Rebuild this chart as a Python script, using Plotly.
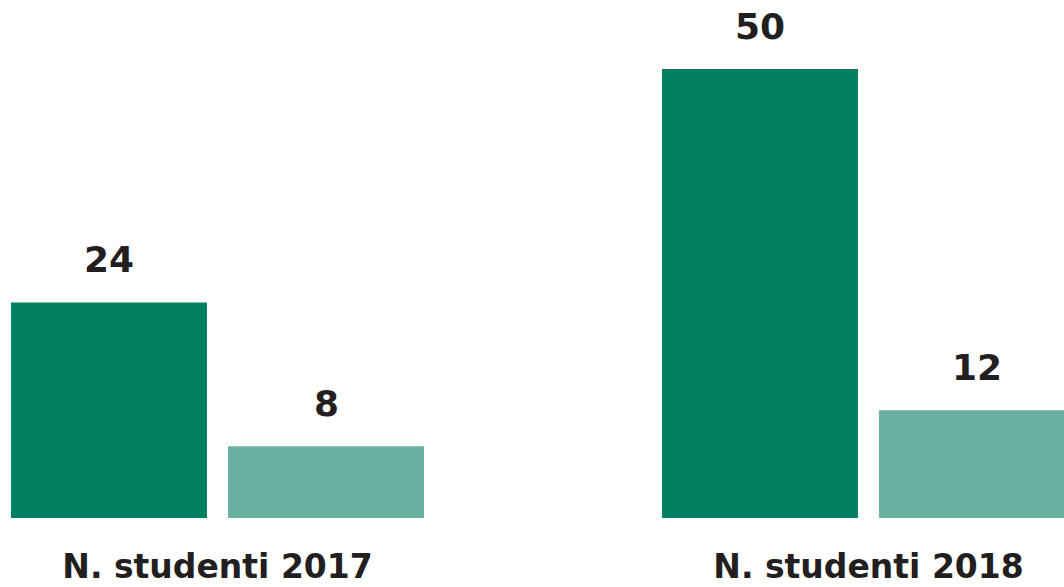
import plotly.graph_objects as go

categories = ["N. studenti 2017", "N. studenti 2018"]
series_a = [24, 50]
series_b = [8, 12]

DARK = "#008060"
LIGHT = "#6bb1a3"
TXT = "#231f20"
FONT = "DejaVu Sans"

idx = list(range(len(categories)))
bargap = 1 / 3
bargroupgap = 0.097
slot = (1 - bargap) / 2

fig = go.Figure()
fig.add_trace(go.Bar(x=idx, y=series_a, marker=dict(color=DARK, line=dict(width=0)), hoverinfo="skip"))
fig.add_trace(go.Bar(x=idx, y=series_b, marker=dict(color=LIGHT, line=dict(width=0)), hoverinfo="skip"))

for vals, off in ((series_a, -slot / 2), (series_b, slot / 2)):
    for i, v in zip(idx, vals):
        fig.add_annotation(x=i + off, y=v, text=f"<b>{v}</b>", showarrow=False,
                           yanchor="bottom", yshift=20,
                           font=dict(family=FONT, size=36, color=TXT))

fig.update_layout(
    width=1064, height=587,
    margin=dict(l=0, r=0, t=0, b=69),
    paper_bgcolor="white", plot_bgcolor="white",
    barmode="group", bargap=bargap, bargroupgap=bargroupgap,
    showlegend=False,
    xaxis=dict(range=[-217.5 / 651, (1064 - 217.5) / 651], tickvals=idx,
               ticktext=[f"<b>{c}</b>" for c in categories],
               showgrid=False, zeroline=False, showline=False, ticks="",
               ticklabelstandoff=26, automargin=False,
               tickfont=dict(family=FONT, size=33, color=TXT),
               fixedrange=True),
    yaxis=dict(range=[0, 518 / 8.98], visible=False, fixedrange=True, automargin=False),
)

fig.write_html("out.html", config={"displayModeBar": False})
with open("out.html", encoding="utf-8") as f:
    html = f.read()
html = html.replace("<body>", '<body style="margin:0;padding:0;overflow:hidden">', 1)
with open("out.html", "w", encoding="utf-8") as f:
    f.write(html)
